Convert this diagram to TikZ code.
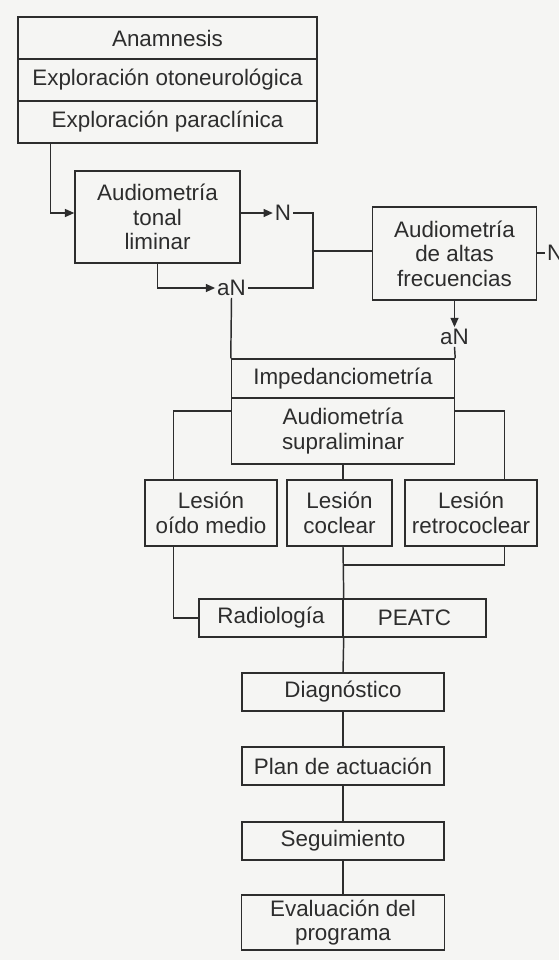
\documentclass[tikz,border=0pt]{standalone}
\usepackage{fontspec}
\setmainfont{Liberation Sans}
\usetikzlibrary{arrows.meta,calc}
\definecolor{papel}{RGB}{245,245,243}
\definecolor{tinta}{RGB}{45,45,45}

\begin{document}
\begin{tikzpicture}[x=0.75pt, y=-0.75pt,
  font=\fontsize{16.8}{18.4}\selectfont,
  line width=1.1pt, draw=tinta, text=tinta,
  >={Triangle[length=7pt,width=6pt]},
  caja/.style={draw, rectangle, inner sep=0pt, align=center},
  etiq/.style={inner sep=1pt}]

\useasboundingbox[fill=papel] (0,0) rectangle (559,960);

% bloque inicial
\node[caja, minimum width=224.25pt, minimum height=31.5pt] (anam) at (167.5,38) {Anamnesis};
\node[caja, minimum width=224.25pt, minimum height=31.5pt] (otoneu) at (167.5,80) {Exploración otoneurológica};
\node[caja, minimum width=224.25pt, minimum height=31.5pt] (paracl) at (167.5,122) {Exploración paraclínica};

% audiometrias
\node[caja, minimum width=123.75pt, minimum height=69pt] (tonal) at (157.5,217) {Audiometría\\tonal\\liminar};
\node[caja, minimum width=123pt, minimum height=69.75pt] (altas) at (454.5,253.5) {Audiometría\\de altas\\frecuencias};

\node[etiq] (N1) at (283,213) {N};
\node[etiq] (aN1) at (231.5,288) {aN};
\node[etiq] (aN2) at (454.5,337) {aN};
\node[etiq, anchor=west] (N2) at (545,253) {N};
\coordinate (union) at (313,251);

\draw[->] (paracl.south west) ++(33,0) |- (tonal.west |- N1);
\draw[->] (tonal.east |- N1) -- (N1.west);
\draw[->] (tonal.south) |- (aN1.west);
\draw (N1.east) -| (union) |- (aN1.east);
\draw (union) -- (altas.west |- union);
\draw (altas.east |- N2) -- (N2.west);
\draw[->] (altas.south) -- (aN2.north);

% pruebas supraliminares
\node[caja, minimum width=167.25pt, minimum height=29.25pt] (imped) at (343,378.5) {Impedanciometría};
\node[caja, minimum width=167.25pt, minimum height=49.5pt] (supra) at (343,431) {Audiometría\\supraliminar};

\draw (aN1.south) -- (imped.north west);
\draw (aN2.south) -- (imped.north east);

% lesiones
\node[caja, minimum width=99pt, minimum height=49.5pt] (medio) at (211,513) {Lesión\\oído medio};
\node[caja, minimum width=78.75pt, minimum height=49.5pt] (coclear) at (339.5,513) {Lesión\\coclear};
\node[caja, minimum width=99pt, minimum height=49.5pt] (retro) at (471,513) {Lesión\\retrococlear};

\draw ($(supra.west)+(0,-20)$) -| ($(medio.north west)+(29,0)$);
\draw ($(supra.east)+(0,-20)$) -| ($(retro.north east)+(-33,0)$);
\draw (supra.south) -- (supra.south |- coclear.north);

% pruebas complementarias
\node[caja, minimum width=108pt, minimum height=28.5pt] (radio) at (271,618) {Radiología};
\node[caja, minimum width=107.25pt, minimum height=28.5pt] (peatc) at (414.5,618) {PEATC};
\coordinate (cruce) at (343,565);

\draw ($(medio.south west)+(29,0)$) |- (radio.west);
\draw (supra.south |- coclear.south) -- (radio.north east);
\draw ($(retro.south east)+(-33,0)$) |- (cruce);

% final
\node[caja, minimum width=151.5pt, minimum height=28.5pt] (diag) at (343,692) {Diagnóstico};
\node[caja, minimum width=151.5pt, minimum height=28.5pt] (plan) at (343,766) {Plan de actuación};
\node[caja, minimum width=151.5pt, minimum height=28.5pt] (segui) at (343,841) {Seguimiento};
\node[caja, minimum width=152.25pt, minimum height=41.25pt] (evalu) at (343,922.5) {Evaluación del\\programa};

\draw (radio.south east) -- (diag.north);
\draw (diag) -- (plan);
\draw (plan) -- (segui);
\draw (segui) -- (evalu);

\end{tikzpicture}
\end{document}
